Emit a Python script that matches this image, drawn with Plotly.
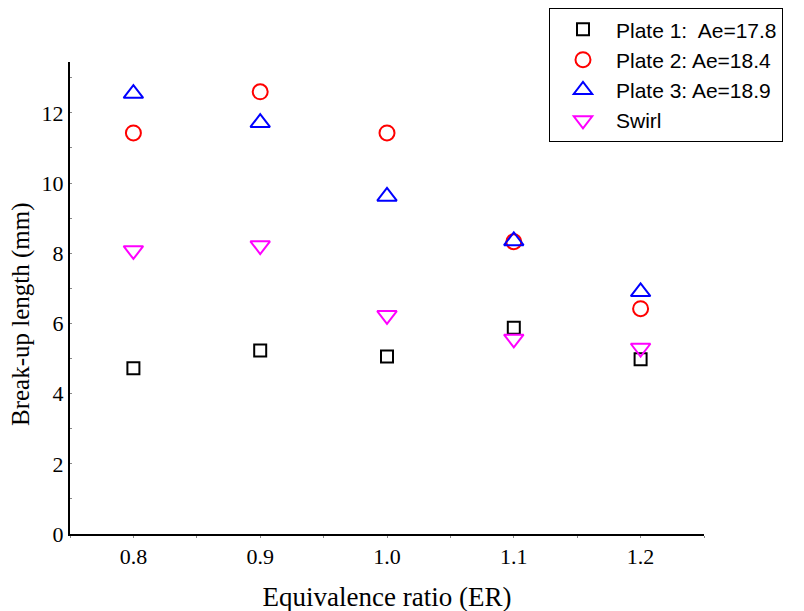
import plotly.graph_objects as go

er = [0.8, 0.9, 1.0, 1.1, 1.2]
plate1 = [4.72, 5.23, 5.06, 5.88, 4.98]
plate2 = [11.43, 12.6, 11.43, 8.33, 6.42]
plate3 = [12.55, 11.72, 9.62, 8.35, 6.9]
swirl = [8.08, 8.22, 6.23, 5.56, 5.3]

names = ["Plate 1:  Ae=17.8", "Plate 2: Ae=18.4", "Plate 3: Ae=18.9", "Swirl"]
series = [plate1, plate2, plate3, swirl]
colors = ["black", "red", "blue", "magenta"]
symbols = ["square-open", "circle-open", "triangle-up-open", "triangle-down-open"]
sizes = [12, 15, 17, 17]

fig = go.Figure()
for n, s, c, sym, sz in zip(names, series, colors, symbols, sizes):
    fig.add_trace(go.Scatter(
        x=er, y=s, mode="markers", name=n,
        marker=dict(symbol=sym, size=sz, color=c, line=dict(color=c, width=2)),
    ))

serif = "Liberation Serif, Times New Roman"
fig.update_layout(
    width=804, height=611,
    margin=dict(l=62, r=108, t=54, b=85, autoexpand=False),
    plot_bgcolor="white", paper_bgcolor="white",
    showlegend=True,
    legend=dict(
        x=0.7555, y=1.114, xanchor="left", yanchor="top",
        bgcolor="white", bordercolor="black", borderwidth=1,
        font=dict(family="Liberation Sans, Arial", size=21, color="black"),
        tracegroupgap=0, itemwidth=56,
    ),
    xaxis=dict(
        range=[0.75, 1.25], tickvals=er, ticktext=["0.8", "0.9", "1.0", "1.1", "1.2"],
        showgrid=False, zeroline=False, showline=True, linecolor="black", linewidth=2,
        ticks="outside", ticklen=2, tickcolor="#888", tickwidth=1,
        minor=dict(dtick=0.05, tick0=0.75, ticks="outside", ticklen=2, tickcolor="#888"),
        tickfont=dict(family=serif, size=22, color="black"),
        title=dict(text="Equivalence ratio (ER)", standoff=19,
                   font=dict(family=serif, size=27, color="black")),
    ),
    yaxis=dict(
        range=[0, 13.45], tickvals=[0, 2, 4, 6, 8, 10, 12],
        showgrid=False, zeroline=False, showline=True, linecolor="black", linewidth=2,
        ticks="inside", ticklen=2, tickcolor="#888", tickwidth=1,
        minor=dict(dtick=1, tick0=0, ticks="inside", ticklen=2, tickcolor="#888"),
        tickfont=dict(family=serif, size=22, color="black"),
    ),
    annotations=[dict(
        text="Break-up length (mm)", textangle=-90,
        xref="paper", yref="paper", x=-0.0773, y=0.466,
        xanchor="center", yanchor="middle", showarrow=False,
        font=dict(family=serif, size=25, color="black"),
    )],
)

fig.write_html("out.html")
